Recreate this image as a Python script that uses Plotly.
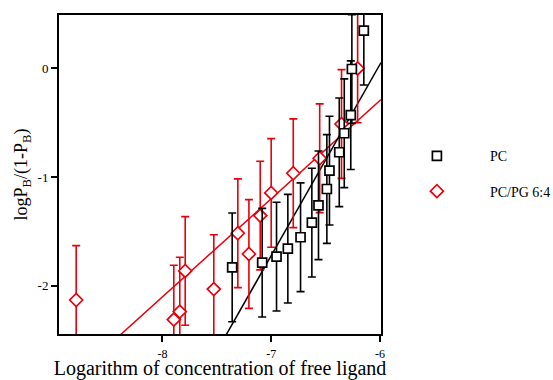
import plotly.graph_objects as go

# ---- data ----
pc_x = [-7.359, -7.083, -6.951, -6.847, -6.730, -6.626, -6.565, -6.488,
        -6.464, -6.374, -6.328, -6.268, -6.258, -6.148]
pc_y = [-1.830, -1.787, -1.731, -1.658, -1.553, -1.418, -1.259, -1.109,
        -0.940, -0.771, -0.596, -0.430, -0.005, 0.348]
pc_err = [0.5] * len(pc_x)

pg_x = [-8.794, -7.896, -7.841, -7.791, -7.528, -7.307, -7.205, -7.101,
        -7.000, -6.797, -6.554, -6.353, -6.205]
pg_y = [-2.130, -2.310, -2.237, -1.863, -2.030, -1.516, -1.707, -1.353,
        -1.145, -0.964, -0.826, -0.511, 0.000]
pg_err = [0.5] * len(pg_x)

# linear fits (slope, intercept)
pc_slope, pc_intercept = 1.759, 10.591
pg_slope, pg_intercept = 0.903, 5.123
fit_x = [-8.952, -5.99]

x_range = [-8.952, -5.99]
y_range = [-2.443, 0.492]
x_ticks = [-8, -7, -6]
x_ticklabels = ["-8", "-7", "-6"]
y_ticks = [0, -1, -2]
y_ticklabels = ["0", "-1", "-2"]

RED = "#e8000b"
FONT = "Liberation Serif"

fig = go.Figure()

fig.add_trace(go.Scatter(
    x=fit_x, y=[pg_slope * v + pg_intercept for v in fit_x],
    mode="lines", line=dict(color=RED, width=1.5), showlegend=False,
    hoverinfo="skip"))
fig.add_trace(go.Scatter(
    x=fit_x, y=[pc_slope * v + pc_intercept for v in fit_x],
    mode="lines", line=dict(color="black", width=1.5), showlegend=False,
    hoverinfo="skip"))

fig.add_trace(go.Scatter(
    x=pg_x, y=pg_y, mode="markers", name="PC/PG 6:4",
    legendgroup="b", legendrank=2,
    marker=dict(symbol="diamond", size=10, color="white",
                line=dict(color=RED, width=1.7)),
    error_y=dict(type="data", array=pg_err, visible=True, color=RED,
                 thickness=1.6, width=4)))
fig.add_trace(go.Scatter(
    x=pc_x, y=pc_y, mode="markers", name="PC",
    legendgroup="a", legendrank=1,
    marker=dict(symbol="square", size=9, color="white",
                line=dict(color="black", width=1.7)),
    error_y=dict(type="data", array=pc_err, visible=True, color="black",
                 thickness=1.6, width=4)))

axis_common = dict(showgrid=False, zeroline=False, showline=True,
                   linecolor="black", linewidth=2, mirror=True,
                   ticks="outside", ticklen=6, tickwidth=1.5,
                   tickcolor="black")

fig.update_xaxes(range=x_range, tickvals=x_ticks, ticktext=x_ticklabels,
                 ticklabelstandoff=2,
                 tickfont=dict(family=FONT, size=12, color="black"),
                 title=dict(text="Logarithm of concentration of free ligand",
                            font=dict(family=FONT, size=20, color="black"),
                            standoff=3),
                 **axis_common)
fig.update_yaxes(range=y_range, tickvals=y_ticks, ticktext=y_ticklabels,
                 tickfont=dict(family=FONT, size=13, color="black"),
                 title=dict(text="logP<sub>B</sub>/(1-P<sub>B</sub>)",
                            font=dict(family=FONT, size=18, color="black"),
                            standoff=5),
                 **axis_common)

fig.update_layout(
    width=553, height=380,
    margin=dict(l=59, r=172, t=15, b=46, autoexpand=False),
    paper_bgcolor="white", plot_bgcolor="white",
    legend=dict(x=1.009, y=0.607, xanchor="left", yanchor="top",
                font=dict(family=FONT, size=14, color="black"),
                traceorder="grouped", tracegroupgap=14,
                itemwidth=96, bgcolor="rgba(0,0,0,0)"),
)

fig.write_html("out.html")
